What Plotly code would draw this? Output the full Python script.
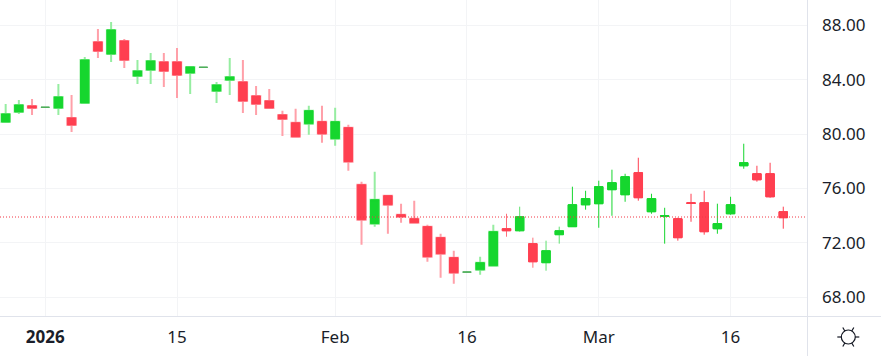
import math
import plotly.graph_objects as go

index = list(range(60))
open_ = [80.89,81.63,82.07,81.96,81.92,81.19,82.29,86.77,85.89,86.85,84.27,84.72,85.30,85.30,84.50,84.90,83.17,83.98,83.83,82.80,82.44,81.41,80.83,80.76,80.91,79.66,80.47,76.27,73.41,75.47,74.07,73.77,73.19,72.38,70.91,69.84,70.02,70.32,73.04,72.89,71.94,70.54,72.60,73.19,74.80,74.88,75.91,75.54,77.16,74.29,73.95,73.77,74.95,74.95,73.04,74.14,77.67,77.08,77.08,74.29]
high = [82.22,82.51,82.58,81.99,83.69,82.88,85.67,87.73,88.25,87.00,85.45,85.97,85.97,86.33,84.94,84.93,83.83,85.60,85.45,83.54,83.32,81.72,81.86,82.08,82.08,81.94,80.69,76.50,77.23,75.47,74.88,75.10,73.33,72.67,71.42,69.87,70.98,73.33,74.14,74.66,72.38,72.16,73.19,76.13,75.83,76.57,77.38,77.08,78.26,75.61,74.58,73.85,75.61,75.83,74.88,75.39,79.29,77.67,77.89,74.66]
low = [80.89,81.48,81.41,81.94,81.41,80.16,82.29,85.60,85.30,84.86,83.69,83.69,83.47,82.66,82.95,84.89,82.29,82.88,81.55,81.41,81.85,79.86,79.73,79.95,79.36,79.14,77.30,71.86,73.19,72.67,73.48,73.48,70.61,69.44,69.00,69.83,69.66,70.32,72.45,72.82,70.17,69.95,71.94,73.19,74.44,73.11,73.99,75.02,75.10,74.14,71.94,72.16,73.55,72.60,72.67,74.07,77.45,76.50,75.32,73.04]
close = [81.48,82.14,81.92,81.98,82.73,80.67,85.45,86.11,87.66,85.45,84.64,85.38,84.64,84.35,84.94,84.92,83.61,84.20,82.44,82.22,81.92,81.11,79.80,81.72,80.02,80.91,77.97,73.70,75.17,74.80,73.92,73.48,70.98,71.20,69.80,69.86,70.54,72.82,72.89,73.92,70.61,71.42,72.89,74.80,75.25,76.13,76.42,76.86,75.32,75.25,73.99,72.38,74.90,72.82,73.41,74.80,77.89,76.64,75.39,73.85]
last_price = 73.90

tick_index = [3, 13, 25, 35, 45, 55]
tick_labels = ["<b>2026</b>", "15", "Feb", "16", "Mar", "16"]
y_ticks = [68, 72, 76, 80, 84, 88]
y_labels = ["68.00", "72.00", "76.00", "80.00", "84.00", "88.00"]

tiers = [
    (list(range(0, 38)), "#96EDA1", "#FFA0A9", 2),
    (list(range(38, 43)), "#5FE26F", "#FF6F7B", 1),
    (list(range(43, 60)), "#16D62E", "#FF3F50", 1),
]
doji = [3, 15, 35]
GREEN, RED = "#16D62E", "#FF3F50"

W, H, PW, PH = 881, 356, 807.0, 316.0
def px(x): return x / PW
def py(y): return 1 - y / PH

fig = go.Figure()
# wick layer
for members, gline, rline, lw in tiers:
    ids = [i for i in members if i not in doji]
    fig.add_trace(go.Candlestick(
        x=[index[i] for i in ids], open=[open_[i] for i in ids], high=[high[i] for i in ids],
        low=[low[i] for i in ids], close=[close[i] for i in ids],
        whiskerwidth=0, showlegend=False,
        increasing=dict(line=dict(color=gline, width=lw), fillcolor=GREEN),
        decreasing=dict(line=dict(color=rline, width=lw), fillcolor=RED),
    ))
# body layer, solid over the wick layer
body_ids = [i for i in index if i not in doji]
fig.add_trace(go.Candlestick(
    x=[index[i] for i in body_ids], open=[open_[i] for i in body_ids], close=[close[i] for i in body_ids],
    high=[max(open_[i], close[i]) for i in body_ids], low=[min(open_[i], close[i]) for i in body_ids],
    whiskerwidth=0, showlegend=False,
    increasing=dict(line=dict(color=GREEN, width=1), fillcolor=GREEN),
    decreasing=dict(line=dict(color=RED, width=1), fillcolor=RED),
))
fig.add_trace(go.Candlestick(
    x=[index[i] for i in doji], open=[open_[i] for i in doji], high=[high[i] for i in doji],
    low=[low[i] for i in doji], close=[close[i] for i in doji],
    whiskerwidth=0, showlegend=False,
    increasing=dict(line=dict(color="#4FAF5B", width=1), fillcolor="#4FAF5B"),
    decreasing=dict(line=dict(color="#4FAF5B", width=1), fillcolor="#4FAF5B"),
))

shapes = [
    dict(type="line", xref="paper", yref="y", x0=0, x1=1, y0=last_price, y1=last_price,
         line=dict(color="#F23645", width=1, dash="1px,2px")),
    dict(type="line", xref="paper", yref="paper", x0=px(0), x1=px(W), y0=py(316.5), y1=py(316.5),
         line=dict(color="#E0E3EB", width=1)),
    dict(type="line", xref="paper", yref="paper", x0=px(807.5), x1=px(807.5), y0=py(0), y1=py(H),
         line=dict(color="#E0E3EB", width=1)),
]
cx, cy = 848.3, 337.0
shapes.append(dict(type="circle", xref="paper", yref="paper",
                   x0=px(cx - 7), x1=px(cx + 7), y0=py(cy + 7), y1=py(cy - 7),
                   line=dict(color="#131722", width=1.2)))
for ang in (0, 60, 120, 180, 240, 300):
    a = math.radians(ang)
    shapes.append(dict(type="line", xref="paper", yref="paper",
                       x0=px(cx + 7 * math.cos(a)), x1=px(cx + 11 * math.cos(a)),
                       y0=py(cy + 7 * math.sin(a)), y1=py(cy + 11 * math.sin(a)),
                       line=dict(color="#131722", width=1.2)))

fig.update_layout(
    width=W, height=H, margin=dict(l=0, r=W - 807, t=0, b=H - 316),
    paper_bgcolor="white", plot_bgcolor="white", showlegend=False,
    boxgap=0.36, boxgroupgap=0, boxmode="overlay", shapes=shapes,
    font=dict(family="Noto Sans", size=17, color="#1A1E2A"),
)
fig.update_xaxes(
    range=[-0.43, 60.80], rangeslider_visible=False, tickmode="array",
    tickvals=tick_index, ticktext=tick_labels, showgrid=True, gridcolor="#F3F4F6", gridwidth=1,
    showline=False, zeroline=False, ticks="", ticklabelstandoff=9, fixedrange=True,
)
fig.update_yaxes(
    range=[66.62, 89.86], side="right", tickmode="array", tickvals=y_ticks, ticktext=y_labels,
    showgrid=True, gridcolor="#F3F4F6", gridwidth=1, showline=False, zeroline=False, ticks="",
    ticklabelstandoff=14, fixedrange=True,
)
fig.write_html("out.html", config=dict(displayModeBar=False),
               post_script="document.body.style.margin='0';document.documentElement.style.overflow='hidden';")
